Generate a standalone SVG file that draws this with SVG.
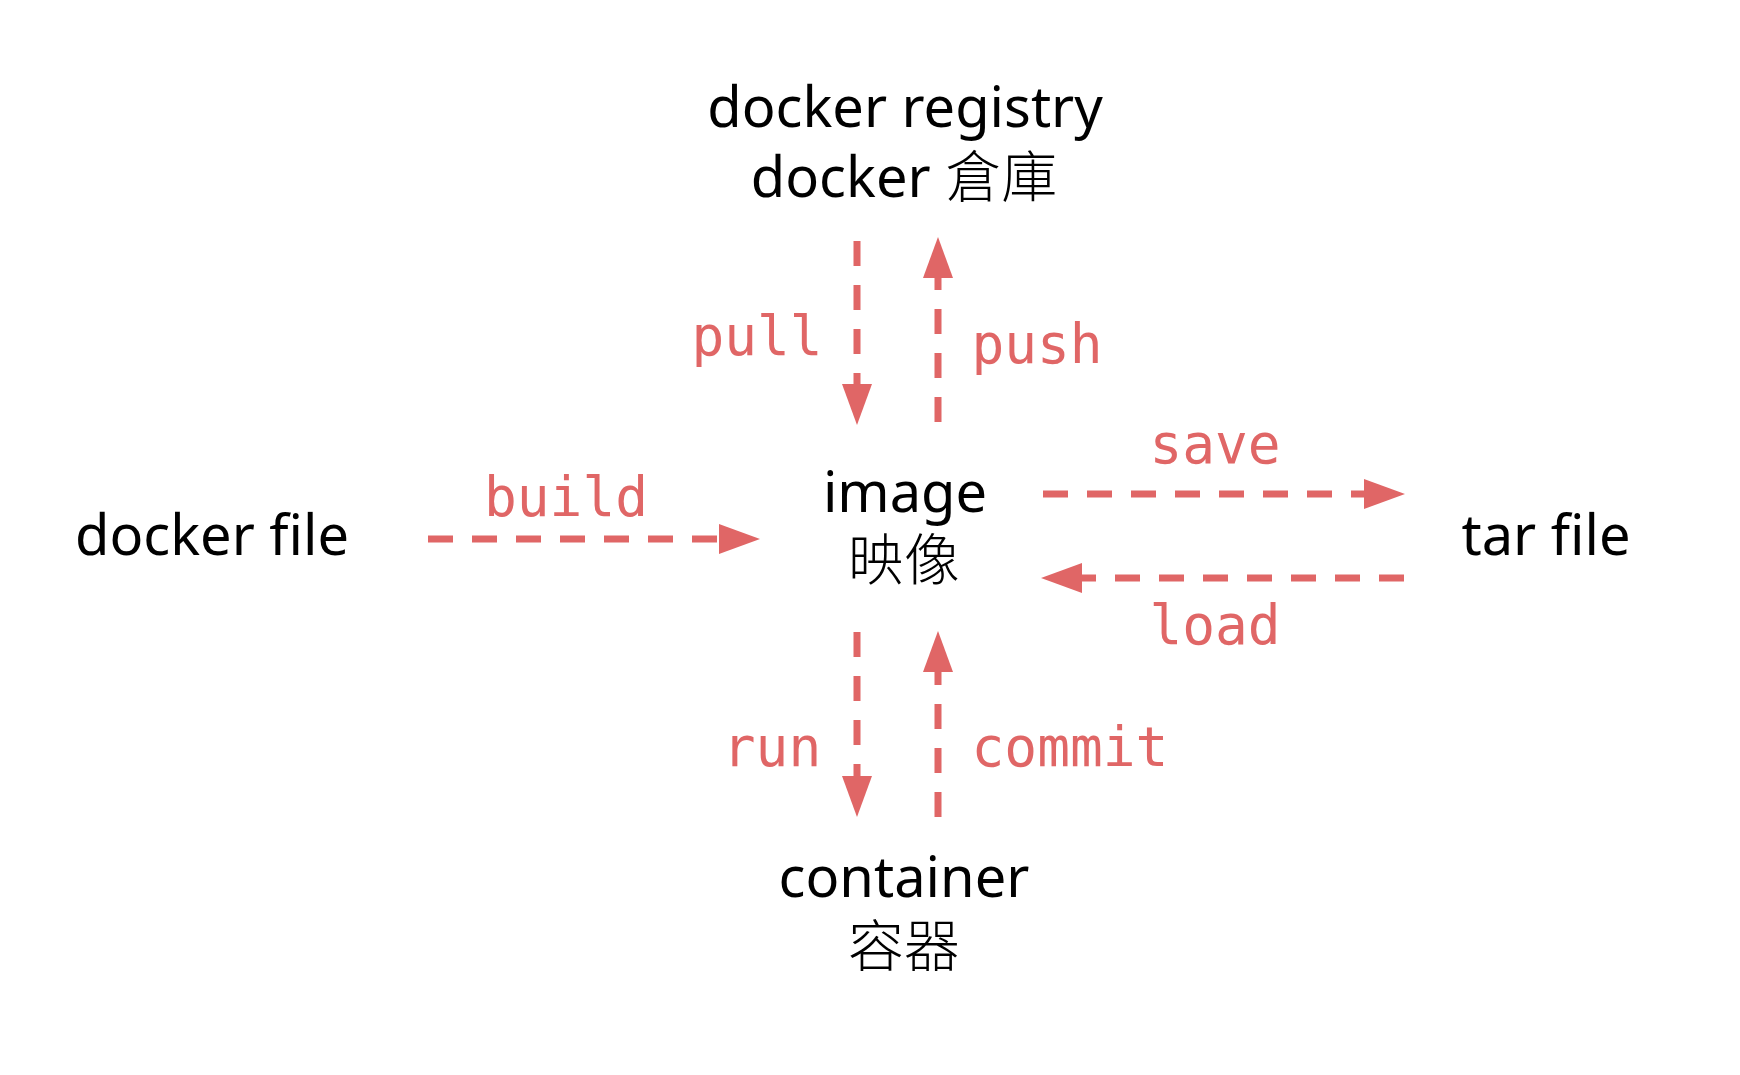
<svg xmlns="http://www.w3.org/2000/svg" width="1740" height="1075" viewBox="0 0 1740 1075">
<style>
.node{font-family:"Noto Sans","Noto Sans CJK TC",sans-serif;font-size:56px;fill:#000;text-anchor:middle}
.cjk{font-family:"Noto Sans CJK TC",sans-serif;font-weight:300}
.lbl{font-family:"DejaVu Sans Mono","Liberation Mono",monospace;font-size:54.5px;fill:#e06666;text-anchor:middle}
.conn{stroke:#e06666;stroke-width:7;stroke-dasharray:25 19;fill:none;marker-end:url(#ah)}
</style>
<defs>
<marker id="ah" markerUnits="userSpaceOnUse" markerWidth="42" markerHeight="30" refX="0" refY="15" orient="auto" viewBox="0 0 42 30">
<path d="M0,0 L41,15 L0,30 z" fill="#e06666"/>
</marker>
</defs>
<rect width="1740" height="1075" fill="#fff"/>
<g id="registry"><text class="node" x="905" y="127">docker registry</text><text class="node" x="904" y="197">docker <tspan class="cjk">倉庫</tspan></text></g>
<g id="dockerfile"><text class="node" x="212" y="555">docker file</text></g>
<g id="image"><text class="node" x="905" y="512">image</text><text class="node cjk" x="904" y="580">映像</text></g>
<g id="tarfile"><text class="node" x="1546" y="555">tar file</text></g>
<g id="container"><text class="node" x="904" y="897">container</text><text class="node cjk" x="904" y="966">容器</text></g>
<g id="connectors">
<line class="conn" x1="428" y1="539" x2="719" y2="539"/>
<line class="conn" x1="1043" y1="494" x2="1364" y2="494"/>
<line class="conn" x1="1404" y1="578" x2="1082" y2="578"/>
<line class="conn" x1="857" y1="241" x2="857" y2="384"/>
<line class="conn" x1="938" y1="422" x2="938" y2="278"/>
<line class="conn" x1="857" y1="632" x2="857" y2="776"/>
<line class="conn" x1="938" y1="817" x2="938" y2="672"/>
<text class="lbl" x="566" y="516">build</text>
<text class="lbl" x="1215" y="463">save</text>
<text class="lbl" x="1215" y="644">load</text>
<text class="lbl" x="757" y="355">pull</text>
<text class="lbl" x="1037" y="363">push</text>
<text class="lbl" x="772" y="766">run</text>
<text class="lbl" x="1070" y="766">commit</text>
</g>
</svg>
